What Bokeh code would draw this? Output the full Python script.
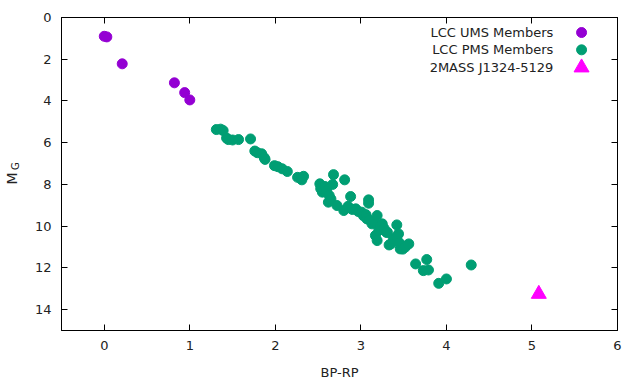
import math
from bokeh.plotting import figure
from bokeh.models import Range1d, FixedTicker, LinearAxis, Label, CustomJSTickFormatter
from bokeh.embed import file_html
from bokeh.resources import INLINE

# ---------------- data ----------------
ums_bprp = [0.00, 0.03, 0.21, 0.82, 0.94, 1.00]
ums_mg = [0.90, 0.93, 2.22, 3.13, 3.60, 3.95]

pms_bprp = [1.31, 1.36, 1.39, 1.43, 1.45, 1.50, 1.57, 1.71, 1.76, 1.79,
            1.84, 1.87, 1.88, 1.99, 2.03, 2.08, 2.14, 2.26, 2.30, 2.33,
            2.31, 2.52, 2.55, 2.53, 2.58, 2.60, 2.63, 2.62, 2.67, 2.68,
            2.65, 2.72, 2.80, 2.81, 2.85, 2.88, 2.90, 2.94, 2.97, 3.01,
            3.03, 3.06, 3.07, 3.09, 3.09, 3.10, 3.13, 3.15, 3.17, 3.19,
            3.19, 3.21, 3.23, 3.25, 3.27, 3.30, 3.31, 3.33, 3.35, 3.38,
            3.42, 3.42, 3.44, 3.45, 3.46, 3.49, 3.52, 3.56, 3.64, 3.73,
            3.77, 3.79, 3.91, 4.00, 4.29]
pms_mg = [5.37, 5.35, 5.42, 5.78, 5.85, 5.87, 5.85, 5.82, 6.40, 6.48,
          6.53, 6.72, 6.80, 7.10, 7.15, 7.25, 7.38, 7.66, 7.72, 7.61,
          7.78, 7.97, 8.37, 8.20, 8.10, 8.30, 8.53, 8.85, 8.00, 7.53,
          8.70, 9.01, 9.25, 7.78, 9.05, 8.58, 9.20, 9.17, 9.30, 9.33,
          9.50, 9.45, 9.65, 8.74, 8.90, 9.70, 9.89, 9.80, 10.45, 9.49,
          10.69, 10.20, 10.00, 9.89, 10.10, 10.30, 10.29, 10.90, 10.85, 10.60,
          9.94, 10.50, 10.37, 10.80, 11.09, 11.10, 11.00, 10.85, 11.81, 12.13,
          11.60, 12.10, 12.74, 12.53, 11.86]

target_bprp = [5.08]
target_mg = [13.25]

series_names = ["LCC UMS Members", "LCC PMS Members", "2MASS J1324-5129"]
x_ticks = [0, 1, 2, 3, 4, 5, 6]
y_ticks = [0, 2, 4, 6, 8, 10, 12, 14]

C_UMS = "#9400D3"
C_PMS = "#009E73"
C_TGT = "#FF00FF"
FONT = "DejaVu Sans"
FS = "13px"
TXT = "#222222"
NBSP = "\u00a0"

p = figure(width=640, height=384, output_backend="svg", toolbar_location=None,
           x_range=Range1d(-0.5, 6), y_range=Range1d(15, 0),
           min_border_left=61, min_border_right=23, min_border_top=17, min_border_bottom=54)
p.outline_line_color = "black"
p.outline_line_width = 1
p.xgrid.visible = False
p.ygrid.visible = False
p.background_fill_color = "white"
p.border_fill_color = "white"

def style_axis(ax, labels=True):
    ax.major_tick_in = 6
    ax.major_tick_out = 0
    ax.minor_tick_line_color = None
    ax.major_tick_line_color = "black"
    ax.axis_line_color = "black"
    if labels:
        ax.major_label_text_font = FONT
        ax.major_label_text_font_size = FS
        ax.major_label_text_color = TXT
        ax.major_label_standoff = 10
    else:
        ax.formatter = CustomJSTickFormatter(code="return ''")
        ax.major_label_standoff = 0

p.xaxis.ticker = FixedTicker(ticks=x_ticks)
p.yaxis.ticker = FixedTicker(ticks=y_ticks)
style_axis(p.xaxis[0])
style_axis(p.yaxis[0])
p.xaxis.axis_label = "BP-RP"
p.xaxis.axis_label_text_font = FONT
p.xaxis.axis_label_text_font_size = FS
p.xaxis.axis_label_text_font_style = "normal"
p.xaxis.axis_label_text_color = TXT
p.xaxis.axis_label_standoff = 12

# subscript "G" of the y label sits on the main y axis (closest to the frame)
p.yaxis.axis_label = NBSP * 5 + "G"
p.yaxis.axis_label_text_font = FONT
p.yaxis.axis_label_text_font_size = "10px"
p.yaxis.axis_label_text_font_style = "normal"
p.yaxis.axis_label_text_color = TXT
p.yaxis.axis_label_standoff = 11

# "M" of the y label on an invisible outer axis, pulled back over the subscript
m_axis = LinearAxis(ticker=FixedTicker(ticks=y_ticks))
m_axis.formatter = CustomJSTickFormatter(code="return ''")
m_axis.major_label_standoff = 0
m_axis.major_tick_in = 0
m_axis.major_tick_out = 0
m_axis.major_tick_line_color = None
m_axis.minor_tick_line_color = None
m_axis.axis_line_color = None
m_axis.axis_label = "M" + NBSP * 2
m_axis.axis_label_text_font = FONT
m_axis.axis_label_text_font_size = "14px"
m_axis.axis_label_text_font_style = "normal"
m_axis.axis_label_text_color = TXT
m_axis.axis_label_standoff = -13
p.add_layout(m_axis, "left")

top = LinearAxis(ticker=FixedTicker(ticks=x_ticks))
style_axis(top, labels=False)
p.add_layout(top, "above")
right = LinearAxis(ticker=FixedTicker(ticks=y_ticks))
style_axis(right, labels=False)
p.add_layout(right, "right")

p.scatter(ums_bprp, ums_mg, size=10, color=C_UMS, marker="circle")
p.scatter(pms_bprp, pms_mg, size=10, color=C_PMS, marker="circle")
p.scatter(target_bprp, target_mg, size=15, color=C_TGT, marker="triangle")

# legend (gnuplot style: text right-aligned, sample to the right)
leg_text_x = 5.25
leg_mark_x = 5.58
leg_rows = [0.72, 1.55, 2.40]
leg_colors = [C_UMS, C_PMS, C_TGT]
leg_markers = ["circle", "circle", "triangle"]
leg_sizes = [10, 10, 15]
for name, yy, col, mk, sz in zip(series_names, leg_rows, leg_colors, leg_markers, leg_sizes):
    p.add_layout(Label(x=leg_text_x, y=yy, text=name, text_font=FONT, text_font_size=FS,
                       text_color=TXT, text_align="right", text_baseline="middle"))
    p.scatter([leg_mark_x], [yy], size=sz, color=col, marker=mk)

open("out.html", "w").write(file_html(p, INLINE))
